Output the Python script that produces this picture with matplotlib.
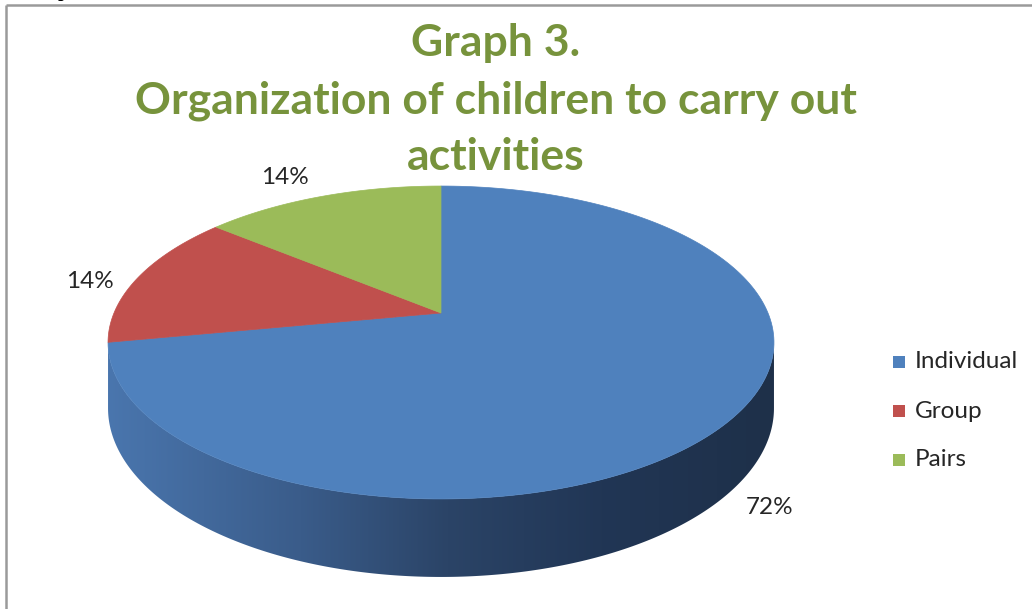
import numpy as np
import matplotlib
matplotlib.use('Agg')
import matplotlib.pyplot as plt
from matplotlib.patches import Polygon, Rectangle
from matplotlib.colors import LinearSegmentedColormap

# ---- data ----
categories = ['Individual', 'Group', 'Pairs']
values = [72, 14, 14]
pct_labels = ['72%', '14%', '14%']
colors = ['#4F81BD', '#C0504D', '#9BBB59']
title_lines = ['Graph 3.', 'Organization of children to carry out', 'activities']

# ---- layout ----
W, H = 1032, 609
FONT = 'Lato'
fig = plt.figure(figsize=(W / 100, H / 100), dpi=100)
ax = fig.add_axes([0, 0, 1, 1])
ax.set_xlim(0, W)
ax.set_ylim(H, 0)
ax.axis('off')

# perspective projection of the pie disc
CX, CY = 441, 313
A, S, K, D = 327, 150.9, 0.1885, 63.3


def proj(theta, depth=0.0):
    u = np.sin(theta)
    v = np.cos(theta)
    f = 1 + K * v
    return CX + A * u / f, CY - S * v / f + depth * D / f


# side wall (visible front part)
th_r = np.arctan2(np.sqrt(1 - K * K), -K)
th_l = 2 * np.pi - th_r
ts = np.linspace(th_r, th_l, 300)
xt, yt = proj(ts, 0)
xb, yb = proj(ts[::-1], 1)
side_xy = np.column_stack([np.r_[xt, xb], np.r_[yt, yb]])
side = Polygon(side_xy, closed=True, facecolor='none', edgecolor='none')
ax.add_patch(side)
cmap = LinearSegmentedColormap.from_list(
    'side', [(0.0, '#4A76AE'), (0.29, '#3A5C8A'), (0.51, '#2B4467'),
             (0.74, '#213655'), (1.0, '#1E3049')])
grad = np.linspace(0, 1, 256)[None, :]
im = ax.imshow(grad, cmap=cmap, extent=[xt.min() - 2, xt.max() + 2, 600, 300],
               aspect='auto', zorder=1, interpolation='bilinear')
im.set_clip_path(side)
ax.set_xlim(0, W)
ax.set_ylim(H, 0)

# top face slices
total = float(sum(values))
start = 0.0
for val, col in zip(values, colors):
    span = 2 * np.pi * val / total
    t = np.linspace(start, start + span, 200)
    x, y = proj(t, 0)
    pts = np.column_stack([np.r_[CX, x], np.r_[CY, y]])
    ax.add_patch(Polygon(pts, closed=True, facecolor=col, edgecolor=col,
                         lw=0.5, zorder=2))
    start += span

# percentage labels
label_xy = [(770, 508), (90, 282), (285, 177)]
for (lx, ly), txt in zip(label_xy, pct_labels):
    ax.text(lx, ly, txt, fontsize=17.5, family=FONT, color='#262626',
            ha='center', va='center', zorder=5)

# title
title_y = [43, 101, 157]
for ty, line in zip(title_y, title_lines):
    ax.text(496, ty, line, fontsize=32, family=FONT, fontweight='bold',
            color='#77933C', ha='center', va='center', zorder=5)

# legend
leg_y = [362, 411, 460]
for ly, cat, col in zip(leg_y, categories, colors):
    ax.add_patch(Rectangle((893, ly - 6), 12, 12, facecolor=col,
                           edgecolor='none', zorder=5))
    ax.text(915, ly, cat, fontsize=17.5, family=FONT, color='#262626',
            ha='left', va='center', zorder=5)

# chart border
ax.plot([6, 6], [5, H + 5], color='#9a9a9a', lw=1.8, solid_capstyle='butt', zorder=6)
ax.plot([6, W + 5], [5, 5], color='#9a9a9a', lw=1.8, solid_capstyle='butt', zorder=6)

# fragment of text above the chart (cut off at the top edge, as in the source)
ax.text(63, -3, 'p', fontsize=14, family='Liberation Serif', fontweight='bold',
        color='black', ha='center', va='baseline', zorder=7)

fig.savefig('out.png', dpi=100)
